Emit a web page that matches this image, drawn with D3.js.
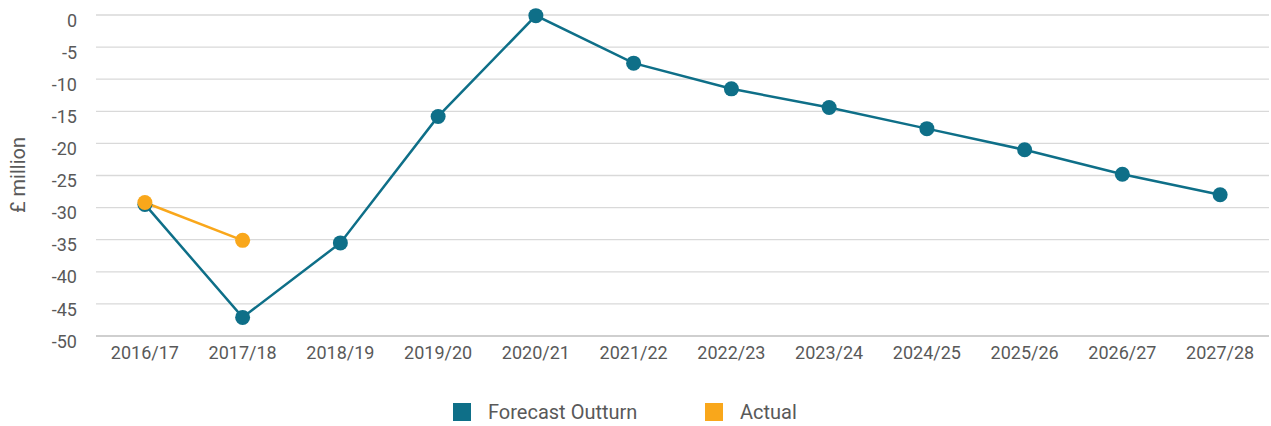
<!DOCTYPE html>
<html><head><meta charset="utf-8">
<script src="https://cdn.jsdelivr.net/npm/d3@7"></script>
<style>body{margin:0;background:#fff;}svg{display:block;font-family:Roboto,"Liberation Sans",sans-serif;}</style>
</head><body><svg id="c" width="1271" height="426"></svg>
<script>
const categories = ["2016/17","2017/18","2018/19","2019/20","2020/21","2021/22","2022/23","2023/24","2024/25","2025/26","2026/27","2027/28"];
const forecastOutturn = [-29.5,-47.1,-35.5,-15.8,-0.1,-7.5,-11.5,-14.4,-17.7,-21.0,-24.8,-28.0];
const actual = [-29.2,-35.1];
const yTicks = [0,-5,-10,-15,-20,-25,-30,-35,-40,-45,-50];
const seriesNames = ["Forecast Outturn","Actual"];
const colors = ["#0e6f88","#f9a71b"];

(function(){
const svg = d3.select("#c");
const mL = 96, mR = 1269, mT = 15, mB = 336;
const x = d3.scaleBand().domain(categories).range([mL,mR]);
const y = d3.scaleLinear().domain([-50,0]).range([mB,mT]);
const cx = d => x(d) + x.bandwidth()/2;
const textCol = "#595959";

svg.append("g").selectAll("line").data(yTicks.filter(t=>t!==-50)).join("line")
  .attr("x1",mL).attr("x2",mR).attr("y1",d=>y(d)).attr("y2",d=>y(d))
  .attr("stroke","#d9d9d9").attr("stroke-width",1.3);
svg.append("line").attr("x1",mL).attr("x2",mR).attr("y1",y(-50)).attr("y2",y(-50))
  .attr("stroke","#bfbfbf").attr("stroke-width",1.6);

const ya = svg.append("g").attr("transform",`translate(${mL},0)`)
  .call(d3.axisLeft(y).tickValues(yTicks).tickSize(0).tickPadding(19).tickFormat(d=>d===0?"0":"-"+Math.abs(d)));
ya.select(".domain").remove();
ya.selectAll("text").attr("font-size",18).attr("fill",textCol).attr("dy","0.62em").attr("font-family","Roboto, sans-serif");

const xa = svg.append("g").attr("transform",`translate(0,${mB})`)
  .call(d3.axisBottom(x).tickSize(0).tickPadding(10));
xa.select(".domain").remove();
xa.selectAll("text").attr("font-size",18).attr("fill",textCol).attr("font-family","Roboto, sans-serif");

svg.append("text").attr("transform","translate(25,175) rotate(-90)").attr("text-anchor","middle")
  .attr("font-size",20).attr("fill",textCol).text("£ million");

const line = d3.line().x((d,i)=>cx(categories[i])).y(d=>y(d));
[forecastOutturn, actual].forEach((s,k)=>{
  svg.append("path").datum(s).attr("d",line).attr("fill","none").attr("stroke",colors[k]).attr("stroke-width",2.5);
});
[forecastOutturn, actual].forEach((s,k)=>{
  svg.append("g").selectAll("circle").data(s).join("circle")
    .attr("cx",(d,i)=>cx(categories[i])).attr("cy",d=>y(d)).attr("r",7.5).attr("fill",colors[k]);
});

const legX = [453,705];
seriesNames.forEach((n,k)=>{
  svg.append("rect").attr("x",legX[k]).attr("y",403).attr("width",18).attr("height",18).attr("fill",colors[k]);
  svg.append("text").attr("x",legX[k]+35).attr("y",419).attr("font-size",20).attr("fill",textCol).text(n);
});
})();
</script></body></html>
